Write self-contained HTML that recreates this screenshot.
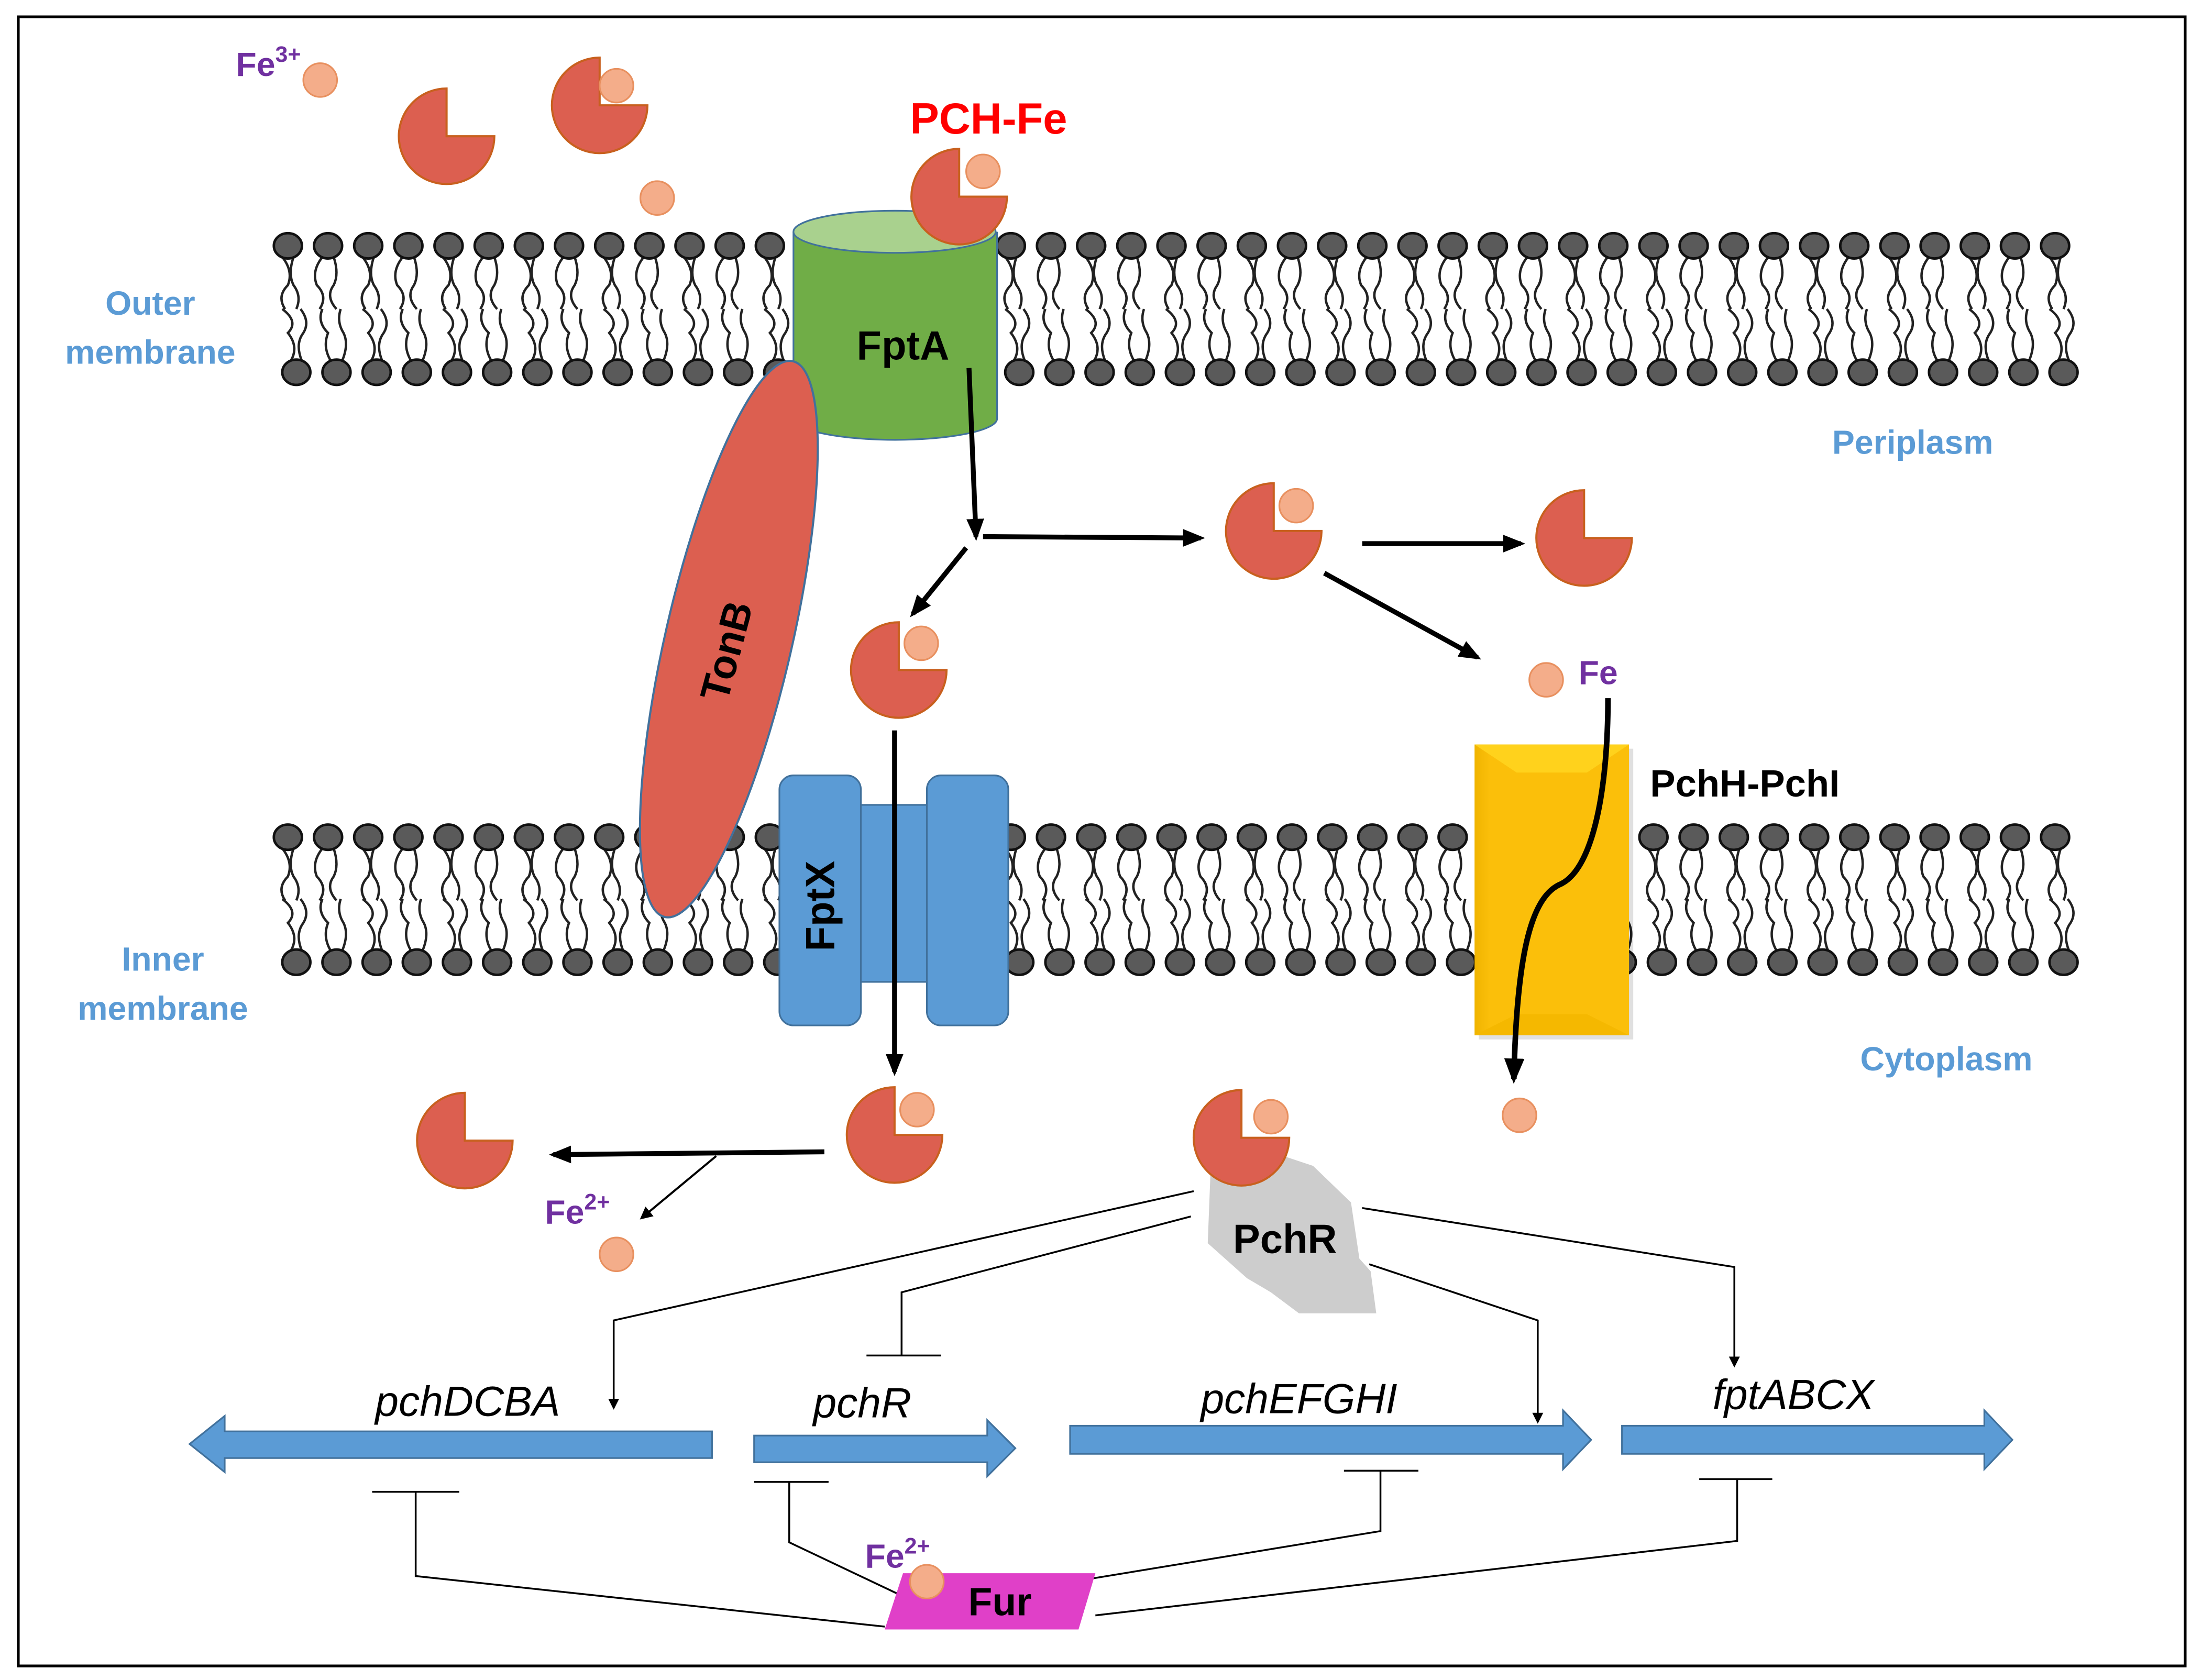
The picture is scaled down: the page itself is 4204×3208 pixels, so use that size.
<!DOCTYPE html>
<html><head><meta charset="utf-8"><style>
html,body{margin:0;padding:0;background:#fff;}
svg{display:block;}
text{font-family:"Liberation Sans",sans-serif;}
</style></head><body>
<svg id="s" width="4204" height="3208" viewBox="0 0 1568 1196" preserveAspectRatio="none" xmlns="http://www.w3.org/2000/svg">
<defs>
<marker id="ah" viewBox="0 0 10 10" refX="8" refY="5" markerWidth="6" markerHeight="6" orient="auto"><path d="M0,0 L10,5 L0,10 z" fill="#000"/></marker>
<marker id="ahs" viewBox="0 0 10 10" refX="8" refY="5" markerWidth="4.5" markerHeight="4.5" orient="auto"><path d="M0,1 L10,5 L0,9 z" fill="#000"/></marker>
<linearGradient id="gold" x1="0" y1="0" x2="1" y2="0"><stop offset="0" stop-color="#f0b400"/><stop offset="0.1" stop-color="#fbbf0a"/><stop offset="1" stop-color="#fbbf0a"/></linearGradient>
<g id="pac"><path d="M0,0 L0,-34 A34,34 0 1,0 34,0 Z" fill="#dc5f50" stroke="#c8601e" stroke-width="1.5"/></g>
<g id="ball"><circle r="12" fill="#f4ad8a" stroke="#e8905f" stroke-width="1.2"/></g>
</defs>
<rect x="0" y="0" width="1568" height="1196" fill="#fff"/>
<rect x="13" y="12" width="1543" height="1174" fill="none" stroke="#000" stroke-width="2"/>
<g id="mem1"></g>
<g id="mem2"></g>

<!-- labels -->
<text x="168" y="54" font-size="24" font-weight="bold" fill="#7030a0">Fe<tspan font-size="16" dy="-10">3+</tspan></text>
<text x="648" y="95" font-size="31" font-weight="bold" fill="#ff0000">PCH-Fe</text>
<g font-size="24" font-weight="bold" fill="#5b9bd5" text-anchor="middle">
<text x="107" y="224">Outer</text><text x="107" y="259">membrane</text>
<text x="1362" y="323">Periplasm</text>
<text x="116" y="691">Inner</text><text x="116" y="726">membrane</text>
<text x="1386" y="762">Cytoplasm</text>
</g>

<!-- FptA -->
<path d="M565,165 L565,298 A72,15 0 0,0 710,298 L710,165" fill="#70ad47" stroke="#41719c" stroke-width="1.2"/>
<ellipse cx="637" cy="165" rx="72" ry="15" fill="#a9d18e" stroke="#41719c" stroke-width="1.2"/>
<text x="643" y="256" font-size="29" font-weight="bold" text-anchor="middle">FptA</text>

<!-- TonB -->
<ellipse cx="519" cy="455" rx="45" ry="203" transform="rotate(13 519 455)" fill="#dc5f50" stroke="#41719c" stroke-width="1.5"/>
<text x="0" y="0" font-size="29" font-weight="bold" text-anchor="middle" transform="translate(527,466) rotate(-75)">TonB</text>

<!-- FptX -->
<rect x="612" y="573" width="50" height="126" fill="#5b9bd5" stroke="#41719c" stroke-width="1.2"/>
<rect x="555" y="552" width="58" height="178" rx="10" fill="#5b9bd5" stroke="#41719c" stroke-width="1.2"/>
<rect x="660" y="552" width="58" height="178" rx="10" fill="#5b9bd5" stroke="#41719c" stroke-width="1.2"/>
<text x="0" y="0" font-size="29" font-weight="bold" text-anchor="middle" transform="translate(594,645) rotate(-90)">FptX</text>

<!-- PchH-PchI -->
<rect x="1050" y="530" width="110" height="207" fill="#000" opacity="0.12" transform="translate(3,3)"/>
<rect x="1050" y="530" width="110" height="207" fill="url(#gold)"/>
<path d="M1050,530 L1160,530 L1130,550 L1080,550 Z" fill="#ffd21c"/>
<path d="M1050,737 L1160,737 L1130,722 L1080,722 Z" fill="#f5b800"/>
<text x="1175" y="567" font-size="27" font-weight="bold">PchH-PchI</text>
<path d="M1145,497 C1145,560 1135,620 1110,630 C1090,640 1080,680 1078,768" fill="none" stroke="#000" stroke-width="4" marker-end="url(#ahs)"/>
<text x="1124" y="487" font-size="24" font-weight="bold" fill="#7030a0">Fe</text>

<!-- pacmen -->
<use href="#pac" x="318" y="97"/>
<use href="#pac" x="427" y="75"/><use href="#ball" x="439" y="61"/>
<use href="#pac" x="683" y="140"/><use href="#ball" x="700" y="122"/>
<use href="#pac" x="907" y="378"/><use href="#ball" x="923" y="360"/>
<use href="#pac" x="1128" y="383"/>
<use href="#pac" x="640" y="477"/><use href="#ball" x="656" y="458"/>
<use href="#pac" x="637" y="808"/><use href="#ball" x="653" y="790"/>
<use href="#pac" x="331" y="812"/>
<use href="#ball" x="228" y="57"/>
<use href="#ball" x="468" y="141"/>
<use href="#ball" x="1101" y="484"/>
<use href="#ball" x="1082" y="794"/>
<use href="#ball" x="439" y="893"/>

<!-- thick arrows -->
<g stroke="#000" stroke-width="3.5" fill="none" marker-end="url(#ahs)">
<line x1="690" y1="262" x2="695" y2="382"/>
<line x1="700" y1="382" x2="855" y2="383"/>
<line x1="688" y1="390" x2="650" y2="437"/>
<line x1="970" y1="387" x2="1083" y2="387"/>
<line x1="943" y1="408" x2="1052" y2="468"/>
<line x1="637" y1="520" x2="637" y2="763"/>
<line x1="587" y1="820" x2="394" y2="822"/>
</g>
<line x1="510" y1="823" x2="457" y2="867" stroke="#000" stroke-width="1.5" marker-end="url(#ah)"/>
<text x="388" y="871" font-size="24" font-weight="bold" fill="#7030a0">Fe<tspan font-size="16" dy="-10">2+</tspan></text>

<!-- PchR -->
<path d="M862,834 L868,808 L905,820 L935,830 L962,856 L968,896 L976,905 L980,935 L925,935 L905,920 L888,910 L860,885 Z" fill="#cdcdcd"/>
<use href="#pac" x="884" y="810"/><use href="#ball" x="905" y="795"/>
<text x="915" y="892" font-size="29" font-weight="bold" text-anchor="middle">PchR</text>

<!-- thin regulation lines -->
<g stroke="#000" stroke-width="1.3" fill="none">
<polyline points="850,848 437,940 437,1002" marker-end="url(#ah)"/>
<polyline points="848,866 642,920 642,965"/>
<line x1="617" y1="965" x2="670" y2="965"/>
<polyline points="975,900 1095,940 1095,1012" marker-end="url(#ah)"/>
<polyline points="970,860 1235,902 1235,972" marker-end="url(#ah)"/>
<line x1="265" y1="1062" x2="327" y2="1062"/>
<polyline points="296,1062 296,1122 630,1158"/>
<line x1="537" y1="1055" x2="590" y2="1055"/>
<polyline points="562,1055 562,1098 640,1135"/>
<line x1="957" y1="1047" x2="1010" y2="1047"/>
<polyline points="983,1047 983,1090 770,1125"/>
<line x1="1210" y1="1053" x2="1262" y2="1053"/>
<polyline points="1237,1053 1237,1097 780,1150"/>
</g>

<!-- genes -->
<g fill="#5b9bd5" stroke="#41719c" stroke-width="1.2">
<path d="M507,1019 L160,1019 L160,1008 L135,1028 L160,1048 L160,1038 L507,1038 Z"/>
<path d="M537,1022 L703,1022 L703,1011 L723,1031 L703,1051 L703,1041 L537,1041 Z"/>
<path d="M762,1015 L1113,1015 L1113,1004 L1133,1025 L1113,1046 L1113,1035 L762,1035 Z"/>
<path d="M1155,1015 L1413,1015 L1413,1004 L1433,1025 L1413,1046 L1413,1035 L1155,1035 Z"/>
</g>
<g font-size="30" font-style="italic" text-anchor="middle">
<text x="333" y="1008">pchDCBA</text>
<text x="614" y="1009">pchR</text>
<text x="925" y="1006">pchEFGHI</text>
<text x="1277" y="1003">fptABCX</text>
</g>

<!-- Fur -->
<path d="M643,1120 L780,1120 L768,1160 L630,1160 Z" fill="#e040c8"/>
<text x="712" y="1150" font-size="28" font-weight="bold" text-anchor="middle">Fur</text>
<use href="#ball" x="660" y="1126"/>
<text x="616" y="1116" font-size="24" font-weight="bold" fill="#7030a0">Fe<tspan font-size="16" dy="-10">2+</tspan></text>
</svg>
<script>
(function(){
function mem(id,yt,yb,x0,x1){
  var g=document.getElementById(id),h="";
  var seed=7;function r(){seed=(seed*9301+49297)%233280;return seed/233280;}
  var k=0;
  for(var x=x0;x<=x1;x+=28.6){
    var w=(k%2?1:-1);k++;
    h+='<path d="M'+(x-4)+','+(yt+8)+' q'+(-8*w)+',10 '+(-4*w)+',20 q'+(8*w)+',8 '+(w*2)+',17 M'+(x+4)+','+(yt+8)+' q'+(4*w)+',12 0,20 q'+(-6*w)+',8 2,17"/>';
    h+='<path d="M'+(x+2)+','+(yb-8)+' q'+(-6*w)+',-10 -2,-20 q'+(-8*w)+',-8 -4,-17 M'+(x+10)+','+(yb-8)+' q'+(5*w)+',-12 1,-20 q'+(-5*w)+',-8 -2,-17"/>';
  }
  var heads="";
  for(var x=x0;x<=x1;x+=28.6){
    heads+='<ellipse cx="'+x+'" cy="'+yt+'" rx="10" ry="9"/>';
    heads+='<ellipse cx="'+(x+6)+'" cy="'+yb+'" rx="10" ry="9"/>';
  }
  g.innerHTML='<g fill="none" stroke="#222" stroke-width="1.7">'+h+'</g><g fill="#5a5a5a" stroke="#111" stroke-width="1.8">'+heads+'</g>';
}
mem("mem1",175,265,205,1465);
mem("mem2",596,685,205,1470);
})();
</script>
</body></html>
